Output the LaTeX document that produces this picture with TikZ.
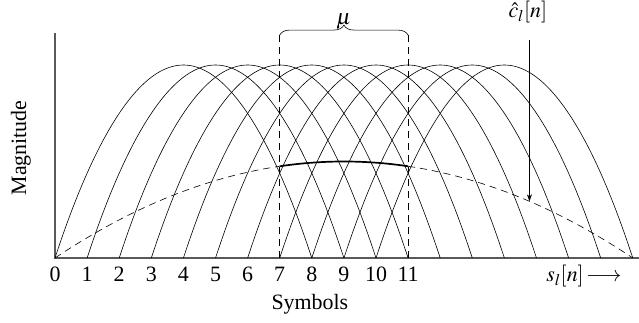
\documentclass[tikz,border=0pt]{standalone}
\usepackage{mathptmx}
\usepackage{fontspec}
\setmainfont{Liberation Serif}
\usetikzlibrary{decorations.pathreplacing,arrows.meta}
\begin{document}
\begin{tikzpicture}[x=32.1bp,y=193bp,
  font=\fontsize{22}{26}\selectfont,
  axisline/.style={draw=black!65,line width=1.1bp},
  archline/.style={draw=black,line width=0.6bp},
  dashline/.style={draw=black,line width=0.6bp,dash pattern=on 7bp off 5bp},
  thickline/.style={draw=black,line width=1.7bp},
  ticklabel/.style={anchor=base,inner sep=0pt},
  ]
\useasboundingbox (-1.7134,-0.3316) rectangle (18.193,1.3368);
% axes
\coordinate (O) at (0,0);
\coordinate (ytop) at (0,1.166);
\coordinate (xend) at (18.19,0);
\draw[axisline] (ytop) -- (O) -- (xend);
% arches
\foreach \k in {0,...,10}{
  \draw[archline] (\k,0) parabola bend (\k+4,1) (\k+8,0);
}
% envelope curve
\draw[dashline] plot[domain=0:7,samples=40,smooth] (\x,{\x*(18-\x)/162});
\draw[thickline] plot[domain=7:11,samples=30,smooth] (\x,{\x*(18-\x)/162});
\draw[dashline] plot[domain=11:18,samples=40,smooth] (\x,{\x*(18-\x)/162});
% window lines and brace
\coordinate (w7b) at (7,0);
\coordinate (w7t) at (7,1.155);
\coordinate (w11b) at (11,0);
\coordinate (w11t) at (11,1.155);
\draw[dashline] (w7b) -- (w7t);
\draw[dashline] (w11b) -- (w11t);
\draw[archline,decorate,decoration={brace,amplitude=10bp}] (w7t) -- (w11t);
\node[inner sep=0pt] (mu) at (9,1.225) {$\mu$};
% tick labels
\foreach \k in {0,...,11}{
  \node[ticklabel] (t\k) at (\k,-0.124) {\k};
}
\node[anchor=base west,inner sep=0pt] (sl) at (15.30,-0.124) {$s_l[n]\!\longrightarrow$};
\node[anchor=base,inner sep=0pt] (sym) at (7.94,-0.269) {Symbols};
\node[rotate=90,inner sep=0pt] (mag) at (-1.06,0.57) {Magnitude};
% c hat label and arrow
\node[inner sep=0pt] (chat) at (14.73,1.275) {$\hat{c}_l[n]$};
\coordinate (cstart) at (14.78,1.13);
\coordinate (cend) at (14.78,{14.78*(18-14.78)/162});
\draw[archline,-{Stealth[length=7bp,width=5bp]}] (cstart) -- (cend);
\end{tikzpicture}
\end{document}
